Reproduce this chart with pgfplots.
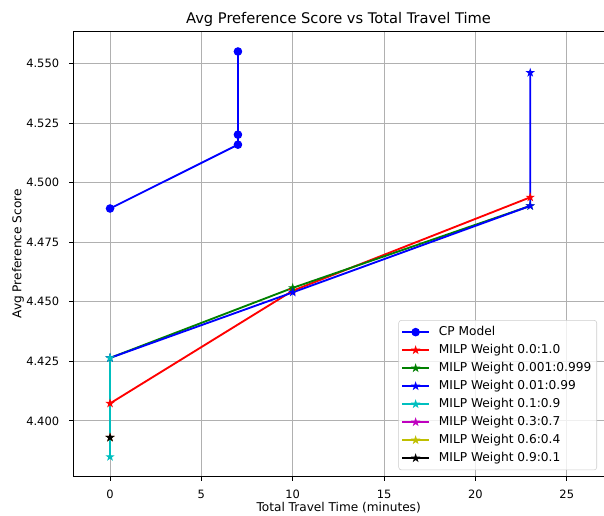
\documentclass[border=0pt]{standalone}
\usepackage{fontspec}
\setmainfont{DejaVu Sans}
\usepackage{pgfplots}
\pgfplotsset{compat=1.18}
\definecolor{mplc}{rgb}{0,0.75,0.75}
\definecolor{mplm}{rgb}{0.75,0,0.75}
\definecolor{mply}{rgb}{0.75,0.75,0}
\definecolor{mplg}{rgb}{0,0.5,0}
\definecolor{gridc}{HTML}{B0B0B0}
\pgfdeclareplotmark{mplstar}{%
 \pgfpathmoveto{\pgfpointpolar{90}{\pgfplotmarksize}}%
 \pgfpathlineto{\pgfpointpolar{126}{0.382\pgfplotmarksize}}%
 \pgfpathlineto{\pgfpointpolar{162}{\pgfplotmarksize}}%
 \pgfpathlineto{\pgfpointpolar{198}{0.382\pgfplotmarksize}}%
 \pgfpathlineto{\pgfpointpolar{234}{\pgfplotmarksize}}%
 \pgfpathlineto{\pgfpointpolar{270}{0.382\pgfplotmarksize}}%
 \pgfpathlineto{\pgfpointpolar{306}{\pgfplotmarksize}}%
 \pgfpathlineto{\pgfpointpolar{342}{0.382\pgfplotmarksize}}%
 \pgfpathlineto{\pgfpointpolar{18}{\pgfplotmarksize}}%
 \pgfpathlineto{\pgfpointpolar{54}{0.382\pgfplotmarksize}}%
 \pgfpathclose
 \pgfusepathqfillstroke}
\pgfplotsset{
  cpstyle/.style={line width=1.4pt, mark=*, mark size=2.8pt, mark options={solid, line width=0.8pt}},
  mstyle/.style={line width=1.4pt, mark=mplstar, mark size=2.4pt, mark options={solid, line width=0.8pt}},
}
\begin{document}
\begin{tikzpicture}
\begin{axis}[
  at={(0,0)}, anchor=south west,
  scale only axis, width=402pt, height=334.275pt,
  xmin=-2.01, xmax=27.33, ymin=4.37655, ymax=4.5636,
  xtick={0,5,10,15,20,25},
  ytick={4.4,4.425,4.45,4.475,4.5,4.525,4.55},
  scaled y ticks=false,
  /pgf/number format/assume math mode=true,
  y tick label style={/pgf/number format/fixed, /pgf/number format/fixed zerofill, /pgf/number format/precision=3,
    anchor=east, inner xsep=0pt, xshift=-7.5pt, font=\fontsize{8.6}{10}\selectfont},
  x tick label style={anchor=base, yshift=-13.5pt, font=\fontsize{8.6}{10}\selectfont},
  xtick pos=bottom, ytick pos=left,
  tick align=outside, major tick length=2.95pt,
  tick style={black, line width=0.67pt},
  axis line style={line width=0.67pt},
  grid=major, grid style={gridc, line width=0.67pt},
  title={Avg Preference Score vs Total Travel Time},
  title style={at={(axis description cs:0.4948,1)}, anchor=base, yshift=-0.45pt, font=\fontsize{11}{13}\selectfont},
  xlabel={Total Travel Time (minutes)},
  xlabel style={at={(axis description cs:0.495,0)}, anchor=base, yshift=-25.95pt, font=\fontsize{9.1}{11}\selectfont},
  ylabel={Avg Preference Score},
  ylabel style={at={(axis description cs:-0.1032,0.5)}, anchor=center, font=\fontsize{9.1}{11}\selectfont},
  legend cell align=left,
  legend image code/.code={\draw[mark repeat=2,mark phase=2, fill opacity=1, draw opacity=1] plot coordinates {(0pt,0pt)(10pt,0pt)(20pt,0pt)};},
  legend style={at={(axis description cs:0.977,0.01346)}, anchor=south east, yshift=0.375pt,
    draw=black!20, rounded corners=2pt, fill=white, fill opacity=0.8, text opacity=1,
    font=\fontsize{9.15}{11}\selectfont, inner xsep=2pt, inner ysep=4.5pt, row sep=4.8pt, column sep=4.75pt,
    nodes={inner xsep=2pt, inner ysep=0pt, text height=6.7pt, text depth=2pt}},
]
\addplot[blue, cpstyle] coordinates {(0,4.4891) (7,4.5159) (7,4.5201) (7,4.5550)};
\addlegendentry{CP Model}
\addplot[red, mstyle] coordinates {(0,4.4073) (10,4.4546) (23,4.4938)};
\addlegendentry{MILP Weight 0.0:1.0}
\addplot[mplg, mstyle] coordinates {(0,4.4264) (10,4.4558) (23,4.4902)};
\addlegendentry{MILP Weight 0.001:0.999}
\addplot[blue, mstyle] coordinates {(0,4.4264) (10,4.4539) (23,4.4902) (23,4.5461)};
\addlegendentry{MILP Weight 0.01:0.99}
\addplot[mplc, mstyle] coordinates {(0,4.4264) (0,4.3849)};
\addlegendentry{MILP Weight 0.1:0.9}
\addplot[mplm, mstyle] coordinates {(0,4.3930)};
\addlegendentry{MILP Weight 0.3:0.7}
\addplot[mply, mstyle] coordinates {(0,4.3930)};
\addlegendentry{MILP Weight 0.6:0.4}
\addplot[black, mstyle] coordinates {(0,4.3930)};
\addlegendentry{MILP Weight 0.9:0.1}
\end{axis}
\pgfresetboundingbox
\path (-55pt,-28.725pt) rectangle (398pt,357.525pt);
\end{tikzpicture}
\end{document}
